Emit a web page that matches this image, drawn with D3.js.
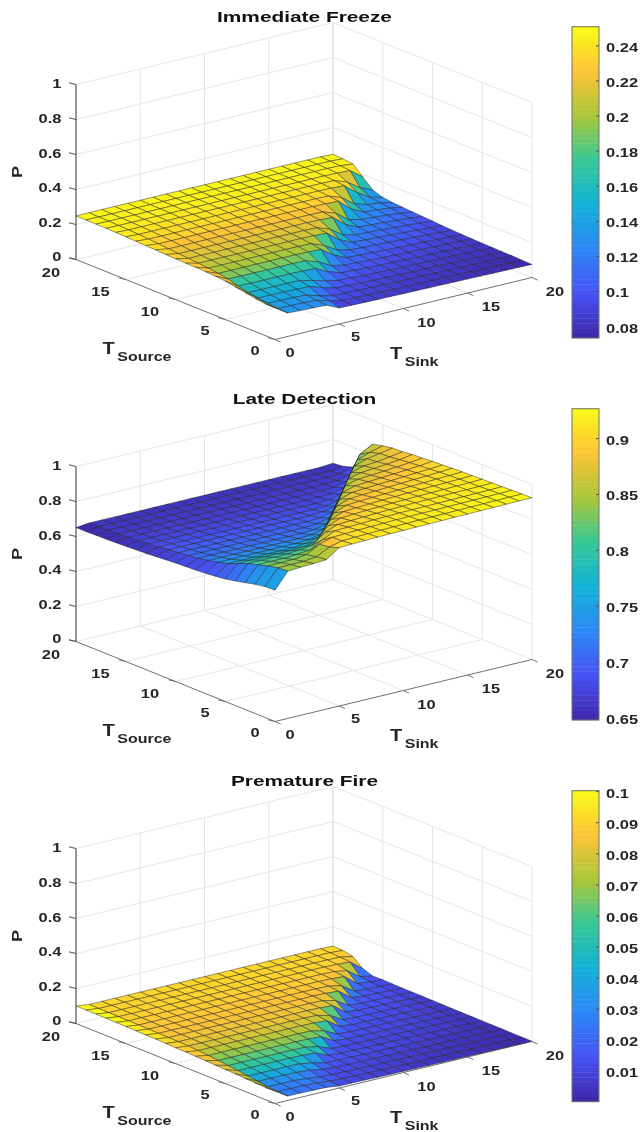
<!DOCTYPE html>
<html><head><meta charset="utf-8">
<script src="https://d3js.org/d3.v7.min.js"></script>
<style>html,body{margin:0;padding:0;background:#fff}svg{display:block;filter:blur(0.35px)}text{font-family:"Liberation Sans",Arial,sans-serif;font-weight:bold}</style>
</head><body><svg id="c" width="641" height="1132"></svg>
<script>
const titles = ["Immediate Freeze","Late Detection","Premature Fire"];
const sourceTicks = [0,5,10,15,20];
const sinkTicks = [0,5,10,15,20];
const pTicks = [0,0.2,0.4,0.6,0.8,1];
const barTicks1 = [0.08,0.1,0.12,0.14,0.16,0.18,0.2,0.22,0.24];
const barTicks2 = [0.65,0.7,0.75,0.8,0.85,0.9];
const barTicks3 = [0.01,0.02,0.03,0.04,0.05,0.06,0.07,0.08,0.09,0.1];
const barRange1 = [0.0735,0.2509];
const barRange2 = [0.648,0.9268];
const barRange3 = [0.0003,0.1003];

// rows: T_Source 0..20, columns: T_Sink 0..20
const immediateFreeze = [
[.18,.134,.13,.128,.125,.092,.09,.088,.087,.086,.085,.084,.083,.082,.081,.08,.079,.078,.077,.076,.075],
[.182,.136,.135,.134,.13,.11,.094,.092,.09,.089,.088,.086,.085,.084,.083,.082,.081,.08,.079,.077,.076],
[.19,.143,.142,.141,.137,.115,.098,.095,.093,.091,.09,.088,.087,.086,.085,.084,.082,.081,.08,.079,.078],
[.2,.151,.15,.15,.148,.145,.122,.101,.098,.095,.093,.091,.089,.088,.087,.086,.084,.083,.082,.08,.079],
[.21,.159,.158,.158,.158,.156,.14,.12,.104,.101,.097,.095,.093,.091,.09,.088,.087,.085,.084,.082,.08],
[.22,.173,.172,.172,.172,.172,.17,.167,.132,.107,.104,.1,.097,.095,.093,.091,.09,.088,.086,.084,.081],
[.225,.191,.19,.19,.19,.19,.19,.188,.165,.126,.11,.107,.103,.1,.097,.095,.093,.091,.089,.087,.083],
[.228,.2,.2,.2,.2,.2,.2,.2,.198,.195,.145,.113,.109,.106,.103,.1,.097,.095,.092,.089,.085],
[.23,.207,.207,.207,.207,.207,.207,.207,.207,.205,.178,.135,.116,.112,.109,.106,.103,.1,.096,.092,.087],
[.231,.212,.212,.212,.212,.212,.212,.212,.212,.212,.21,.207,.152,.119,.115,.112,.108,.104,.1,.095,.09],
[.233,.217,.217,.217,.217,.217,.217,.217,.217,.217,.217,.215,.19,.14,.122,.118,.114,.11,.105,.1,.094],
[.235,.221,.221,.221,.221,.221,.221,.221,.221,.221,.221,.221,.219,.216,.158,.125,.12,.116,.11,.105,.097],
[.238,.226,.226,.226,.226,.226,.226,.226,.226,.226,.226,.226,.226,.224,.2,.145,.128,.123,.117,.11,.1],
[.24,.232,.232,.232,.232,.232,.232,.232,.232,.232,.232,.232,.232,.232,.23,.227,.166,.13,.125,.117,.104],
[.242,.236,.236,.236,.236,.236,.236,.236,.236,.236,.236,.236,.236,.236,.236,.234,.208,.155,.132,.124,.108],
[.244,.24,.24,.24,.24,.24,.24,.24,.24,.24,.24,.24,.24,.24,.24,.24,.238,.235,.178,.134,.115],
[.246,.243,.243,.243,.243,.243,.243,.243,.243,.243,.243,.243,.243,.243,.243,.243,.243,.241,.215,.165,.134],
[.247,.245,.245,.245,.245,.245,.245,.245,.245,.245,.245,.245,.245,.245,.245,.245,.245,.245,.243,.24,.186],
[.248,.247,.247,.247,.247,.247,.247,.247,.247,.247,.247,.247,.247,.247,.247,.247,.247,.247,.247,.245,.237],
[.249,.248,.248,.248,.248,.248,.248,.248,.248,.248,.248,.248,.248,.248,.248,.248,.248,.248,.248,.248,.244],
[.249,.25,.25,.25,.25,.25,.25,.25,.25,.25,.25,.25,.25,.25,.25,.25,.25,.25,.25,.25,.247]];

const lateDetection = [
[.75,.841,.846,.849,.854,.905,.908,.91,.912,.914,.915,.916,.917,.918,.919,.92,.921,.922,.923,.924,.924],
[.748,.837,.838,.839,.847,.885,.903,.906,.908,.91,.912,.914,.915,.916,.917,.918,.919,.92,.921,.922,.923],
[.738,.825,.826,.827,.837,.878,.9,.903,.906,.908,.91,.912,.913,.914,.915,.916,.917,.918,.919,.92,.921],
[.725,.809,.81,.81,.814,.821,.862,.897,.9,.903,.906,.908,.91,.911,.912,.913,.914,.915,.916,.917,.919],
[.712,.793,.794,.794,.794,.8,.81,.866,.893,.897,.9,.903,.906,.908,.91,.911,.912,.913,.914,.915,.917],
[.7,.771,.772,.772,.772,.772,.776,.786,.862,.889,.893,.897,.9,.903,.905,.907,.909,.91,.912,.913,.916],
[.693,.747,.748,.748,.748,.748,.748,.755,.77,.858,.885,.889,.893,.897,.9,.903,.905,.907,.909,.911,.914],
[.687,.732,.732,.732,.732,.732,.732,.732,.736,.75,.855,.881,.886,.89,.893,.897,.9,.903,.906,.909,.912],
[.683,.719,.719,.719,.719,.719,.719,.719,.719,.724,.74,.853,.877,.882,.886,.89,.894,.898,.901,.905,.91],
[.68,.709,.709,.709,.709,.709,.709,.709,.709,.709,.713,.73,.851,.873,.878,.883,.887,.892,.896,.9,.906],
[.677,.701,.701,.701,.701,.701,.701,.701,.701,.701,.701,.705,.722,.85,.87,.875,.88,.885,.89,.896,.904],
[.673,.695,.695,.695,.695,.695,.695,.695,.695,.695,.695,.695,.699,.715,.848,.867,.872,.878,.884,.891,.899],
[.668,.689,.689,.689,.689,.689,.689,.689,.689,.689,.689,.689,.689,.693,.708,.846,.864,.87,.877,.885,.897],
[.665,.682,.682,.682,.682,.682,.682,.682,.682,.682,.682,.682,.682,.682,.686,.7,.842,.862,.868,.878,.89],
[.662,.677,.677,.677,.677,.677,.677,.677,.677,.677,.677,.677,.677,.677,.677,.681,.695,.838,.862,.875,.888],
[.659,.672,.672,.672,.672,.672,.672,.672,.672,.672,.672,.672,.672,.672,.672,.672,.676,.69,.832,.858,.878],
[.656,.668,.668,.668,.668,.668,.668,.668,.668,.668,.668,.668,.668,.668,.668,.668,.668,.672,.685,.825,.865],
[.654,.665,.665,.665,.665,.665,.665,.665,.665,.665,.665,.665,.665,.665,.665,.665,.665,.665,.669,.68,.79],
[.653,.663,.663,.663,.663,.663,.663,.663,.663,.663,.663,.663,.663,.663,.663,.663,.663,.663,.663,.667,.688],
[.651,.661,.661,.661,.661,.661,.661,.661,.661,.661,.661,.661,.661,.661,.661,.661,.661,.661,.661,.661,.67],
[.651,.659,.659,.659,.659,.659,.659,.659,.659,.659,.659,.659,.659,.659,.659,.659,.659,.659,.659,.659,.665]];

const prematureFire = [
[.07,.025,.024,.023,.021,.012,.011,.01,.009,.008,.007,.006,.0055,.005,.0045,.004,.0035,.003,.0025,.002,.0015],
[.07,.027,.027,.027,.023,.016,.012,.011,.01,.009,.008,.007,.0065,.006,.005,.0045,.004,.0035,.003,.0025,.002],
[.072,.032,.032,.032,.026,.018,.013,.012,.011,.01,.009,.008,.007,.0065,.006,.005,.0045,.004,.0035,.003,.002],
[.075,.04,.04,.04,.038,.034,.02,.014,.013,.012,.011,.01,.009,.008,.007,.006,.0055,.005,.004,.0035,.0025],
[.078,.048,.048,.048,.048,.046,.034,.018,.015,.014,.013,.012,.011,.01,.009,.008,.007,.006,.005,.004,.003],
[.08,.056,.056,.056,.056,.056,.054,.05,.02,.013,.012,.011,.0105,.01,.009,.0085,.008,.0075,.006,.005,.0035],
[.082,.062,.062,.062,.062,.062,.062,.06,.046,.018,.013,.012,.0115,.011,.0105,.01,.009,.008,.0065,.0055,.004],
[.085,.068,.068,.068,.068,.068,.068,.068,.066,.062,.022,.014,.013,.012,.0115,.011,.01,.009,.008,.006,.0045],
[.087,.074,.074,.074,.074,.074,.074,.074,.074,.072,.056,.02,.014,.013,.012,.0115,.011,.0095,.008,.0065,.005],
[.089,.079,.079,.079,.079,.079,.079,.079,.079,.079,.077,.072,.023,.015,.014,.013,.012,.011,.0095,.0075,.0055],
[.09,.082,.082,.082,.082,.082,.082,.082,.082,.082,.082,.08,.062,.021,.015,.014,.013,.012,.0105,.008,.006],
[.092,.084,.084,.084,.084,.084,.084,.084,.084,.084,.084,.084,.082,.077,.024,.015,.014,.013,.0115,.009,.0065],
[.094,.085,.085,.085,.085,.085,.085,.085,.085,.085,.085,.085,.085,.083,.066,.021,.015,.014,.0125,.01,.007],
[.095,.086,.086,.086,.086,.086,.086,.086,.086,.086,.086,.086,.086,.086,.084,.079,.025,.015,.014,.0115,.0075],
[.096,.087,.087,.087,.087,.087,.087,.087,.087,.087,.087,.087,.087,.087,.087,.085,.07,.022,.015,.012,.008],
[.097,.088,.088,.088,.088,.088,.088,.088,.088,.088,.088,.088,.088,.088,.088,.088,.086,.081,.025,.015,.01],
[.098,.089,.089,.089,.089,.089,.089,.089,.089,.089,.089,.089,.089,.089,.089,.089,.089,.087,.074,.023,.008],
[.099,.09,.09,.09,.09,.09,.09,.09,.09,.09,.09,.09,.09,.09,.09,.09,.09,.09,.088,.083,.028],
[.0995,.09,.09,.09,.09,.09,.09,.09,.09,.09,.09,.09,.09,.09,.09,.09,.09,.09,.09,.088,.075],
[.1,.091,.091,.091,.091,.091,.091,.091,.091,.091,.091,.091,.091,.091,.091,.091,.091,.091,.091,.091,.086],
[.1,.091,.091,.091,.091,.091,.091,.091,.091,.091,.091,.091,.091,.091,.091,.091,.091,.091,.091,.091,.088]];

const parulaStops = ["#3e26a8","#4752f4","#2d87f7","#12b1d6","#37c897","#abc739","#fec338","#f9fb14"];
const svg = d3.select("#c");

// oblique projection scales
const sinkX = d3.scaleLinear([0,20],[0,257]);
const sinkY = d3.scaleLinear([0,20],[0,-62]);
const sourceX = d3.scaleLinear([0,20],[0,-199]);
const sourceY = d3.scaleLinear([0,20],[0,-80]);
const zY = d3.scaleLinear([0,1],[0,-175]);
const line = d3.line();

function stretched(g,str,x,y,size,sx,anchor,fill){
  return g.append("text").attr("transform",`translate(${x},${y}) scale(${sx},1)`)
    .attr("text-anchor",anchor||"middle").attr("dominant-baseline","central")
    .attr("font-size",size).attr("fill",fill||"#262626").text(str);
}

function panel(i,values,range,barTicks,barTop,barBottom){
  const oy = i*382;
  const g = svg.append("g").attr("transform",`translate(0,${oy})`);
  const P = (k,s,z)=>[275+sinkX(k)+sourceX(s), 339.5+sinkY(k)+sourceY(s)+zY(z)];
  const t = d3.scaleLinear().domain(range).range([0,1]);
  const col = d3.scaleLinear().domain(d3.range(8).map(d=>d/7)).range(parulaStops).clamp(true);
  const color = v=>col(t(v));
  const seg=(a,b,c,w)=>g.append("path").attr("d",line([a,b])).attr("stroke",c).attr("stroke-width",w||1).attr("fill","none");
  const gridC="#e6e6e6";
  // walls + floor grid
  sinkTicks.forEach(k=>{ if(k>0) seg(P(k,0,0),P(k,20,0),gridC); if(k>0) seg(P(k,20,0),P(k,20,1),k==20?"#d0d0d0":gridC); });
  sourceTicks.forEach(s=>{ if(s>0) seg(P(0,s,0),P(20,s,0),gridC); if(s<20) seg(P(20,s,0),P(20,s,1),gridC); });
  pTicks.forEach(z=>{ if(z>0){ seg(P(0,20,z),P(20,20,z),gridC); seg(P(20,20,z),P(20,0,z),gridC);} });
  // axes
  seg(P(0,20,0),P(0,0,0),"#707070");
  seg(P(0,0,0),P(20,0,0),"#707070");
  seg(P(0,20,0),P(0,20,1),"#404040",1.1);
  sourceTicks.forEach(s=>{const a=P(0,s,0); seg(a,[a[0]-7,a[1]-1.7],"#707070");});
  sinkTicks.forEach(k=>{const a=P(k,0,0); seg(a,[a[0]+5.6,a[1]+2.6],"#707070");});
  pTicks.forEach(z=>{const a=P(0,20,z); seg(a,[a[0]-7,a[1]-1.7],"#505050");});
  // surface, painted back to front
  const surf=g.append("g");
  for(let s=19;s>=0;s--) for(let k=19;k>=0;k--){
    const c=[P(k,s,values[s][k]),P(k+1,s,values[s][k+1]),P(k+1,s+1,values[s+1][k+1]),P(k,s+1,values[s+1][k])];
    surf.append("path").attr("d",line(c)+"Z").attr("fill",color(values[s][k]))
      .attr("stroke","#1e1e1e").attr("stroke-width",0.6).attr("stroke-opacity",0.75).attr("stroke-linejoin","round");
  }
  // labels
  stretched(g,titles[i],304.5,17,15,1.39,"middle","#111");
  const pLab=[[0,256],[0.2,221.7],[0.4,187],[0.6,153],[0.8,118],[1,83.3]];
  pLab.forEach(d=>stretched(g,String(d[0]),61.5,d[1],13.5,1.22,"end"));
  const srcPos={20:[51,271.7],15:[100.5,291],10:[150,310.7],5:[205,330.5],0:[255,350.5]};
  sourceTicks.forEach(s=>stretched(g,String(s),srcPos[s][0],srcPos[s][1],13.5,1.22));
  const snkPos={0:[290,352],5:[355.5,336.5],10:[426.5,321.7],15:[491,306],20:[555,291.5]};
  sinkTicks.forEach(k=>stretched(g,String(k),snkPos[k][0],snkPos[k][1],13.5,1.22));
  g.append("text").attr("transform","translate(17,172) rotate(-90) scale(1.3,1)").attr("text-anchor","middle")
    .attr("dominant-baseline","central").attr("font-size",14).attr("fill","#262626").text("P");
  stretched(g,"T",108.7,349,16,1.25);
  stretched(g,"Source",144.4,356.7,12.5,1.28);
  stretched(g,"T",396,354,16,1.25);
  stretched(g,"Sink",421.6,361.7,12.5,1.28);
  // colorbar (positions are absolute on the page)
  const by = d3.scaleLinear().domain(range).range([barBottom,barTop]);
  const h=(barBottom-barTop)/64;
  g.append("g").attr("transform",`translate(0,${-oy})`).call(b=>{
    d3.range(64).forEach(n=>{
      const v=range[0]+(n+.5)/64*(range[1]-range[0]);
      b.append("rect").attr("x",572).attr("width",27).attr("y",by(v)-h/2-.2).attr("height",h+.4).attr("fill",color(v));
    });
    b.append("rect").attr("x",572).attr("width",27).attr("y",barTop).attr("height",barBottom-barTop)
      .attr("fill","none").attr("stroke","#707070").attr("stroke-width",1);
    barTicks.forEach(v=>{
      b.append("path").attr("d",line([[596,by(v)],[599,by(v)]])).attr("stroke","#505050").attr("fill","none");
      stretched(b,String(v),606,by(v)+1,13.5,1.22,"start");
    });
  });
}
panel(0,immediateFreeze,barRange1,barTicks1,26.7,338);
panel(1,lateDetection,barRange2,barTicks2,408.7,720);
panel(2,prematureFire,barRange3,barTicks3,790.7,1101.7);
</script></body></html>
